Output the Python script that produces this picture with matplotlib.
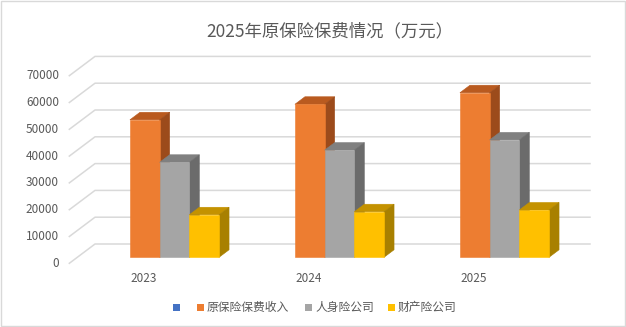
import numpy as np
import matplotlib
matplotlib.use("Agg")
import matplotlib.pyplot as plt
from matplotlib.patches import Polygon, Rectangle

plt.rcParams['font.family'] = ['Noto Sans CJK SC', 'DejaVu Sans']

# ---------- data ----------
years = ["2023", "2024", "2025"]
names = ["", "原保险保费收入", "人身险公司", "财产险公司"]
premium = [51300, 57100, 61400]
life = [35460, 40000, 43800]
prop = [15868, 17000, 17650]
yticks = [0, 10000, 20000, 30000, 40000, 50000, 60000, 70000]
title = "2025年原保险保费情况（万元）"

# ---------- faux-3D projection (pixels of a 626x327 canvas) ----------
W_PX, H_PX = 626, 327
PX, PY = 165.0, 26.8 / 10000      # px per category, px per value unit
X0, Y0 = 166.5, 263.3             # front plane origin
DX, DV = 25.7 / PX, 19.3 / PY     # full depth offset in data units
XL, XR = -0.589, 2.411            # wall extent (categories)
ZB, DZ, BW = 0.31, 0.39, 0.18     # bar depth position, bar depth, bar width

def P(x, v, z):
    return (x + z * DX, v + z * DV)

fig = plt.figure(figsize=(W_PX / 100, H_PX / 100), dpi=100)
ax = fig.add_axes([0, 0, 1, 1])
ax.set_xlim(-X0 / PX, (W_PX - X0) / PX)
ax.set_ylim((Y0 - H_PX) / PY, Y0 / PY)
ax.axis("off")

GRID = "#D9D9D9"
TXT = "#595959"
for v in yticks:
    pts = [P(XL, v, 0), P(XL, v, 1), P(XR, v, 1)]
    ax.plot([p[0] for p in pts], [p[1] for p in pts], color=GRID, lw=1.1, zorder=1)
    ax.text(-0.6515, v, f"{v}", ha="right", va="center", fontsize=8.5, color=TXT)

series = [(premium, ("#ED7D31", "#B95A1F", "#9C4B1B")),
          (life, ("#A5A5A5", "#808080", "#6B6B6B")),
          (prop, ("#FFC000", "#C49200", "#A88000"))]
for i in range(len(years)):
    for j, (vals, (cf, ct, cs)) in enumerate(series):
        v = vals[i]
        x0 = i - 0.27 + j * BW
        x1 = x0 + BW
        front = [P(x0, 0, ZB), P(x1, 0, ZB), P(x1, v, ZB), P(x0, v, ZB)]
        top = [P(x0, v, ZB), P(x1, v, ZB), P(x1, v, ZB + DZ), P(x0, v, ZB + DZ)]
        side = [P(x1, 0, ZB), P(x1, 0, ZB + DZ), P(x1, v, ZB + DZ), P(x1, v, ZB)]
        for poly, c in ((top, ct), (side, cs), (front, cf)):
            ax.add_patch(Polygon(poly, closed=True, fc=c, ec=c, lw=0.4, zorder=2 + i * 3 + j))
    ax.text(i - 0.139, (Y0 - 278) / PY, years[i], ha="center", va="center",
            fontsize=8.5, color=TXT)

# ---------- title, legend, border ----------
fig.text(330 / W_PX, 1 - 31 / H_PX, title, ha="center", va="center",
         fontsize=12.5, color=TXT)

leg_cols = ["#4472C4", "#ED7D31", "#A5A5A5", "#FFC000"]
leg_x = [173, 197, 305, 387.5]
ly = 307
for x, c, n in zip(leg_x, leg_cols, names):
    fig.patches.append(Rectangle((x / W_PX, 1 - (ly + 3.5) / H_PX), 7 / W_PX, 7 / H_PX,
                                 transform=fig.transFigure, fc=c, ec="none"))
    if n:
        fig.text((x + 10) / W_PX, 1 - ly / H_PX, n, ha="left", va="center",
                 fontsize=8.5, color=TXT)

fig.patches.append(Rectangle((0.5 / W_PX, 0.8 / H_PX), 624.5 / W_PX, 325.5 / H_PX,
                             transform=fig.transFigure, fill=False, ec=GRID, lw=1))

fig.savefig("out.png", dpi=100)
